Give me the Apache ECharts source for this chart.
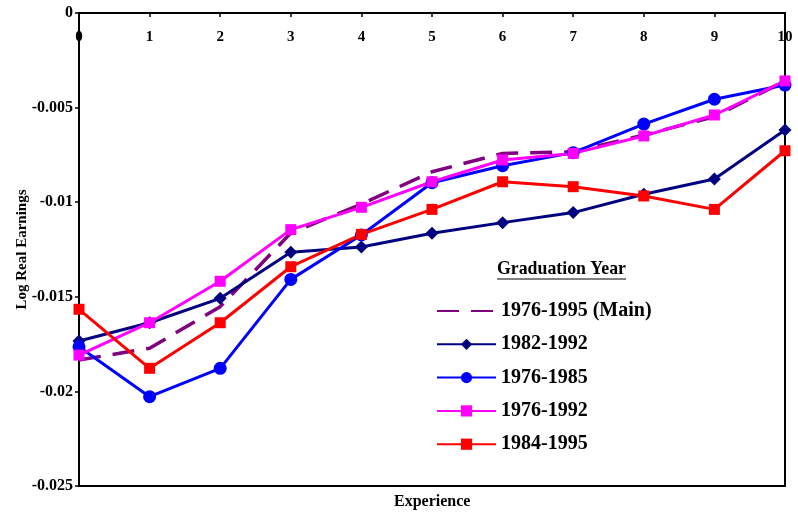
<!DOCTYPE html>
<html>
<head>
<meta charset="utf-8">
<script src="https://cdn.jsdelivr.net/npm/echarts@6/dist/echarts.min.js"></script>
<style>
html,body{margin:0;padding:0;background:#fff;}
#main{width:798px;height:515px;}
</style>
</head>
<body>
<div id="main"></div>
<script>
var experience = [0, 1, 2, 3, 4, 5, 6, 7, 8, 9, 10];
var seriesNames = ['1976-1995 (Main)', '1982-1992', '1976-1985', '1976-1992', '1984-1995'];
var main7695 = [-0.01834, -0.01772, -0.01552, -0.01163, -0.01010, -0.00839, -0.00742, -0.00733, -0.00645, -0.00548, -0.00359];
var y8292 = [-0.01734, -0.01637, -0.01508, -0.01265, -0.01237, -0.01164, -0.01108, -0.01055, -0.00958, -0.00877, -0.00618];
var y7685 = [-0.01764, -0.02028, -0.01878, -0.01408, -0.01173, -0.00897, -0.00807, -0.00738, -0.00587, -0.00456, -0.00381];
var y7692 = [-0.01808, -0.01637, -0.01418, -0.01145, -0.01027, -0.00892, -0.00777, -0.00742, -0.00650, -0.00539, -0.00359];
var y8495 = [-0.01566, -0.01878, -0.01637, -0.01341, -0.01170, -0.01038, -0.00892, -0.00918, -0.00967, -0.01038, -0.00728];
var yTicks = [0, -0.005, -0.01, -0.015, -0.02, -0.025];

function pairs(vals) { return experience.map(function (x, i) { return [x, vals[i]]; }); }

var font = 'Liberation Serif';
var chart = echarts.init(document.getElementById('main'));
chart.setOption({
  animation: false,
  backgroundColor: '#fff',
  grid: { left: 79, right: 13, top: 13, bottom: 29, show: true, borderColor: '#000', borderWidth: 2, backgroundColor: 'transparent', outerBoundsMode: 'none', containLabel: false },
  xAxis: {
    type: 'value', position: 'top', min: 0, max: 10, interval: 1,
    axisLine: { show: true, lineStyle: { color: '#000', width: 2 } },
    axisTick: { show: true, inside: true, length: 4, lineStyle: { color: '#000', width: 1.5 } },
    axisLabel: { inside: true, margin: 17, color: '#000', fontFamily: font, fontWeight: 'bold', fontSize: 15 },
    splitLine: { show: false }
  },
  yAxis: {
    type: 'value', min: -0.025, max: 0, interval: 0.005,
    name: 'Log Real Earnings', nameLocation: 'middle', nameGap: 49, nameMoveOverlap: false,
    nameTextStyle: { color: '#000', fontFamily: font, fontWeight: 'bold', fontSize: 15 },
    axisLine: { show: true, lineStyle: { color: '#000', width: 2 } },
    axisTick: { show: true, length: 4, lineStyle: { color: '#000', width: 1.5 } },
    axisLabel: { margin: 6, color: '#000', fontFamily: font, fontWeight: 'bold', fontSize: 16,
      formatter: function (v) { var r = yTicks.filter(function (t) { return Math.abs(t - v) < 1e-9; }); return r.length ? String(r[0]) : ''; } },
    splitLine: { show: false }
  },
  legend: {
    orient: 'vertical', left: 436, top: 301, padding: 0,
    itemWidth: 59, itemHeight: 14, itemGap: 13.3,
    textStyle: { color: '#000', fontFamily: font, fontWeight: 'bold', fontSize: 20, lineHeight: 20 },
    data: [
      { name: seriesNames[0], itemStyle: { opacity: 0 } },
      seriesNames[1], seriesNames[2], seriesNames[3], seriesNames[4]
    ]
  },
  graphic: [
    { type: 'text', left: 497, top: 260, style: { text: 'Graduation Year', fill: '#000', font: 'bold 17.8px "Liberation Serif"' } },
    { type: 'line', shape: { x1: 497, y1: 279, x2: 626, y2: 279 }, style: { stroke: '#000', lineWidth: 1 } },
    { type: 'text', left: 394, top: 494, style: { text: 'Experience', fill: '#000', font: 'bold 16px "Liberation Serif"' } }
  ],
  series: [
    { name: seriesNames[0], type: 'line', data: pairs(main7695), symbol: 'none',
      lineStyle: { color: '#800080', width: 3.5, type: [22, 12] }, itemStyle: { color: '#800080' } },
    { name: seriesNames[1], type: 'line', data: pairs(y8292), symbol: 'diamond', symbolSize: 13,
      lineStyle: { color: '#000080', width: 3 }, itemStyle: { color: '#000080' } },
    { name: seriesNames[2], type: 'line', data: pairs(y7685), symbol: 'circle', symbolSize: 13,
      lineStyle: { color: '#0000FF', width: 3 }, itemStyle: { color: '#0000FF' } },
    { name: seriesNames[3], type: 'line', data: pairs(y7692), symbol: 'rect', symbolSize: 11,
      lineStyle: { color: '#FF00FF', width: 3 }, itemStyle: { color: '#FF00FF' } },
    { name: seriesNames[4], type: 'line', data: pairs(y8495), symbol: 'rect', symbolSize: 11,
      lineStyle: { color: '#FF0000', width: 3 }, itemStyle: { color: '#FF0000' } }
  ]
});
</script>
</body>
</html>
